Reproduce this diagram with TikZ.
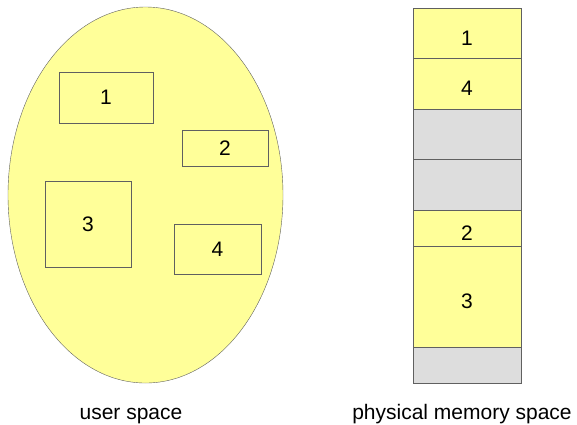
\documentclass[tikz,border=0pt]{standalone}
\usepackage{fontspec}
\setmainfont{Liberation Sans}
\definecolor{memyellow}{HTML}{FFFF99}
\definecolor{memgray}{HTML}{DDDDDD}
\definecolor{edgegray}{HTML}{606060}
\tikzset{
  segbox/.style={draw=edgegray, fill=memyellow, inner sep=0pt},
  memblk/.style={draw=edgegray, fill=#1, minimum width=108pt, inner sep=0pt},
  memlbl/.style={yshift=-5pt},
  capt/.style={anchor=base, font=\fontsize{21}{25}\selectfont}
}
\begin{document}
\begin{tikzpicture}[x=1pt, y=-1pt, font=\fontsize{21}{25}\selectfont]
\useasboundingbox (0,0) rectangle (577,424);

% user space
\draw[edgegray, fill=memyellow] (145.5,195) ellipse[x radius=137.5, y radius=188];

\node[segbox, minimum width=94pt, minimum height=51pt] (u1) at (106,97.5) {1};
\node[segbox, minimum width=86pt, minimum height=36pt] (u2) at (225,148) {2};
\node[segbox, minimum width=86pt, minimum height=86pt] (u3) at (88,224) {3};
\node[segbox, minimum width=87pt, minimum height=50pt] (u4) at (217.5,249) {4};

\node[capt] (ucap) at (131,419) {user space};

% physical memory
\node[memblk=memyellow, minimum height=50pt, label={[memlbl]center:1}] (m1) at (467,33) {};
\node[memblk=memyellow, minimum height=51pt, label={[memlbl]center:4}] (m4) at (467,83.5) {};
\node[memblk=memgray, minimum height=50pt] (mf1) at (467,134) {};
\node[memblk=memgray, minimum height=51pt] (mf2) at (467,184.5) {};
\node[memblk=memyellow, minimum height=36pt, label={[memlbl]center:2}] (m2) at (467,228) {};
\node[memblk=memyellow, minimum height=101pt, label={[memlbl]center:3}] (m3) at (467,296.5) {};
\node[memblk=memgray, minimum height=36pt] (mf3) at (467,365) {};

\node[capt] (mcap) at (462,419) {physical memory space};

\end{tikzpicture}
\end{document}
